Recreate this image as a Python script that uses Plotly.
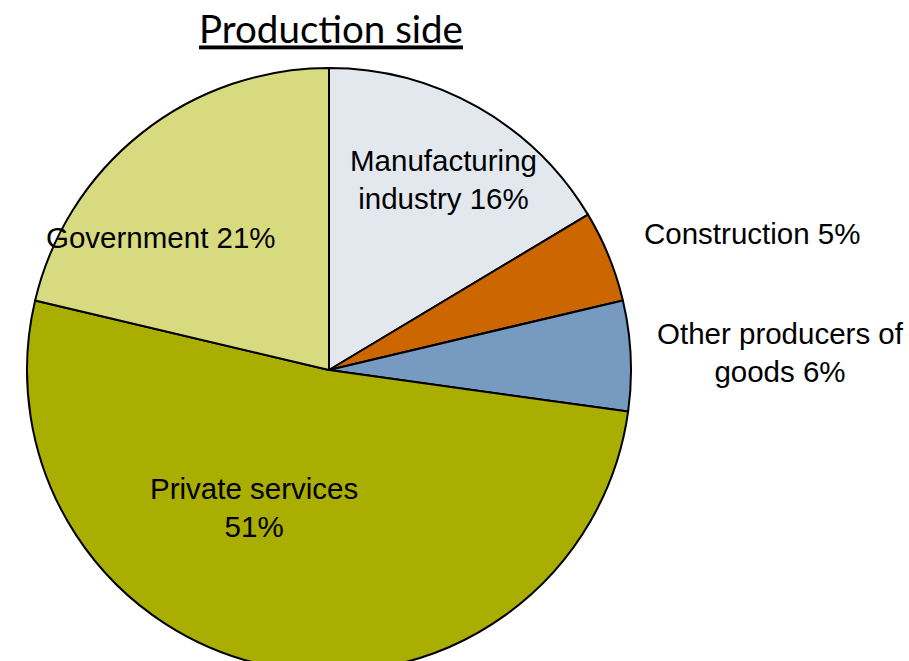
import plotly.graph_objects as go

# Data
categories = ["Manufacturing industry", "Construction", "Other producers of goods",
              "Private services", "Government"]
values = [16.4, 4.9, 5.9, 51.5, 21.3]
label_texts = ["Manufacturing<br>industry 16%", "Construction 5%",
               "Other producers of<br>goods 6%", "Private services<br>51%",
               "Government 21%"]
colors = ["#E3E8EE", "#CC6600", "#769AC0", "#A9AE00", "#D8DA80"]
title_text = "Production side"

W, H = 909, 690   # taller than the 661 window: the pie's bottom is cut off as in the reference
cx, cy, r = 329, 370, 302

fig = go.Figure(go.Pie(
    labels=categories,
    values=values,
    sort=False,
    direction="clockwise",
    rotation=0,
    textinfo="none",
    hoverinfo="label+percent",
    marker=dict(colors=colors, line=dict(color="black", width=2)),
    domain=dict(x=[(cx - r) / W, (cx + r) / W],
                y=[max(0, 1 - (cy + r) / H), 1 - (cy - r) / H]),
    showlegend=False,
))

# label positions in pixels (center, from top-left)
label_pos = [(443, 179), (752, 233), (780, 352), (254, 507), (161, 237)]
for txt, (px, py) in zip(label_texts, label_pos):
    fig.add_annotation(
        text=txt, x=px / W, y=1 - py / H, xref="paper", yref="paper",
        xanchor="center", yanchor="middle", showarrow=False, align="center",
        font=dict(family="Liberation Sans, Arial, sans-serif", size=29.5, color="black"),
    )

fig.update_layout(
    width=W, height=H,
    margin=dict(l=0, r=0, t=0, b=0),
    paper_bgcolor="white",
    plot_bgcolor="white",
    title=dict(
        text=title_text, x=331 / W, y=1 - 30 / H, xref="paper", yref="paper",
        xanchor="center", yanchor="middle",
        font=dict(family="Lato, Open Sans, sans-serif", size=38.5, color="black",
                  lineposition="under"),
    ),
)

fig.write_html("out.html",
               config={"displayModeBar": False},
               post_script="document.body.style.margin='0';document.body.style.overflow='hidden';")
